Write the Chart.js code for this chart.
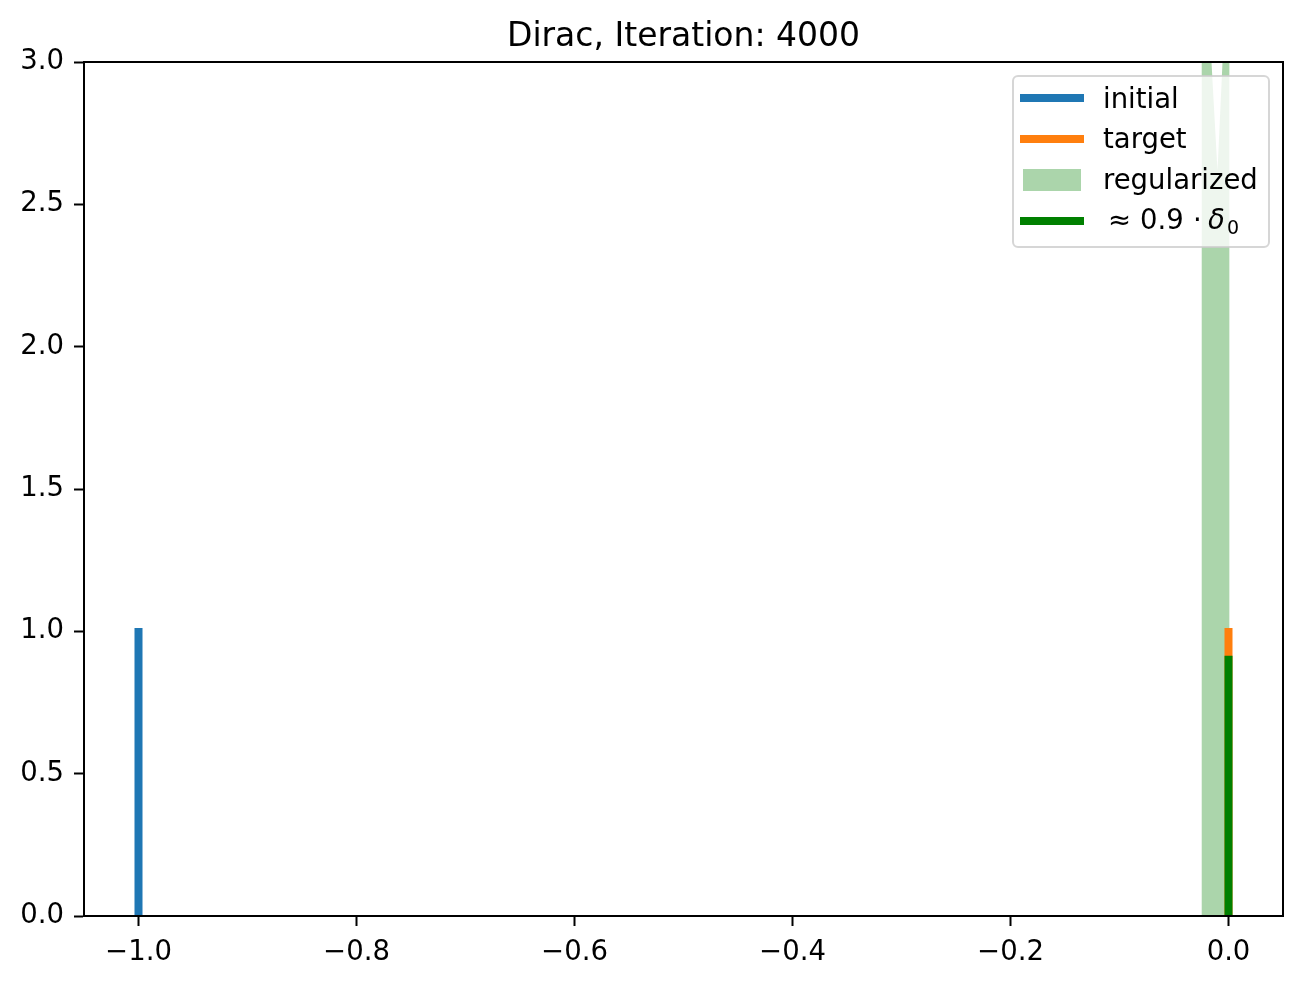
<!DOCTYPE html>
<html>
<head>
<meta charset="utf-8">
<title>Dirac, Iteration: 4000</title>
<script src="https://cdn.jsdelivr.net/npm/chart.js@4.4.1/dist/chart.umd.min.js"></script>
<style>
  html, body { margin: 0; padding: 0; background: #fff; }
  #wrap { width: 1304px; height: 984px; }
</style>
</head>
<body>
<div id="wrap"><canvas id="chart" width="1304" height="984"></canvas></div>
<script>
// ===== DATA =====
const titleText = 'Dirac, Iteration: 4000';
const xTicks = [-1.0, -0.8, -0.6, -0.4, -0.2, 0.0];
const yTicks = [0.0, 0.5, 1.0, 1.5, 2.0, 2.5, 3.0];

// initial dirac at -1
const initialX = [-1.0, -1.0];
const initialY = [0.0, 1.012];
// target dirac at 0
const targetX = [0.0, 0.0];
const targetY = [0.0, 1.012];
// approximation ~ 0.9 * delta_0
const approxX = [0.0, 0.0];
const approxY = [0.0, 0.914];
// regularized density (goes off the top of the axes, dips in the middle)
const regX = [-0.0248, -0.0248, -0.0175, -0.0156, -0.0101, -0.0055, -0.0035, 0.0010, 0.0010];
const regY = [0.0, 3.6, 3.15, 3.0, 2.62, 3.0, 3.15, 3.6, 0.0];

const legendLabels = ['initial', 'target', 'regularized'];

// ===== STYLE =====
const FONT = 'DejaVu Sans';
const BLUE = '#1f77b4';
const ORANGE = '#ff7f0e';
const GREEN = '#008000';
const REG_FILL = 'rgba(0, 128, 0, 0.33)';

const toPoints = (xs, ys) => xs.map((x, i) => ({ x: x, y: ys[i] }));
const fmt = v => (v < 0 ? '\u2212' : '') + Math.abs(v).toFixed(1);

// ===== FRAME, TITLE AND LEGEND =====
const frameAndLegend = {
    id: 'frameAndLegend',
    afterDatasetsDraw(chart) {
        const ctx = chart.ctx;
        const a = chart.chartArea;
        ctx.save();

        // all four spines
        ctx.strokeStyle = '#000';
        ctx.lineWidth = 2;
        ctx.strokeRect(a.left, a.top, a.right - a.left, a.bottom - a.top);

        // title
        ctx.fillStyle = '#000';
        ctx.font = '33px "' + FONT + '"';
        ctx.textAlign = 'center';
        ctx.textBaseline = 'alphabetic';
        ctx.fillText(titleText, (a.left + a.right) / 2, 46);

        // legend box
        const bw = 256, bh = 171;
        const bx = a.right - 14 - bw;
        const by = a.top + 14;
        ctx.beginPath();
        ctx.roundRect(bx, by, bw, bh, 5);
        ctx.fillStyle = 'rgba(255, 255, 255, 0.8)';
        ctx.fill();
        ctx.strokeStyle = 'rgba(204, 204, 204, 0.8)';
        ctx.lineWidth = 2;
        ctx.stroke();

        const hx0 = bx + 7, hx1 = bx + 71;
        const tx = bx + 90;
        const handleY = [22, 63, 104, 145];
        const baseY = [32, 72, 113, 153];

        ctx.lineCap = 'butt';
        ctx.lineWidth = 8;
        [[BLUE, 0], [ORANGE, 1], [GREEN, 3]].forEach(([c, i]) => {
            ctx.strokeStyle = c;
            ctx.beginPath();
            ctx.moveTo(hx0, by + handleY[i]);
            ctx.lineTo(hx1, by + handleY[i]);
            ctx.stroke();
        });
        ctx.fillStyle = REG_FILL;
        ctx.fillRect(bx + 10, by + handleY[2] - 11, 58, 22);

        ctx.fillStyle = '#000';
        ctx.textAlign = 'left';
        ctx.font = '27.5px "' + FONT + '"';
        legendLabels.forEach((t, i) => ctx.fillText(t, tx, by + baseY[i]));

        // "≈ 0.9·δ0"
        const b = by + baseY[3];
        ctx.fillText('\u2248', tx + 5, b);
        ctx.fillText('0.9', tx + 37, b);
        ctx.fillText('\u00b7', tx + 90, b);
        ctx.font = 'italic 27.5px "' + FONT + '"';
        ctx.fillText('\u03b4', tx + 105, b);
        ctx.font = '19px "' + FONT + '"';
        ctx.fillText('0', tx + 124, b + 5);

        ctx.restore();
    }
};

// ===== CHART =====
const ctx = document.getElementById('chart');

new Chart(ctx, {
    type: 'line',
    data: {
        datasets: [
            {
                label: 'approx',
                data: toPoints(approxX, approxY),
                borderColor: GREEN,
                borderWidth: 8,
                borderCapStyle: 'butt',
                pointRadius: 0,
                fill: false,
                order: 0
            },
            {
                label: 'target',
                data: toPoints(targetX, targetY),
                borderColor: ORANGE,
                borderWidth: 8,
                borderCapStyle: 'butt',
                pointRadius: 0,
                fill: false,
                order: 1
            },
            {
                label: 'regularized',
                data: toPoints(regX, regY),
                borderWidth: 0,
                borderColor: 'rgba(0,0,0,0)',
                backgroundColor: REG_FILL,
                pointRadius: 0,
                fill: 'origin',
                tension: 0,
                order: 2
            },
            {
                label: 'initial',
                data: toPoints(initialX, initialY),
                borderColor: BLUE,
                borderWidth: 8,
                borderCapStyle: 'butt',
                pointRadius: 0,
                fill: false,
                order: 3
            }
        ]
    },
    options: {
        responsive: false,
        animation: false,
        layout: { padding: { left: 0, right: 21, top: 62, bottom: 0 } },
        plugins: {
            legend: { display: false },
            title: { display: false },
            tooltip: { enabled: false }
        },
        scales: {
            x: {
                type: 'linear',
                min: -1.05,
                max: 0.05,
                afterBuildTicks: s => { s.ticks = xTicks.map(v => ({ value: v })); },
                afterFit: s => { s.height = 68; },
                grid: {
                    display: true,
                    drawOnChartArea: false,
                    drawTicks: true,
                    tickLength: 10,
                    tickWidth: 2,
                    tickColor: '#000'
                },
                border: { display: true, color: '#000', width: 2 },
                ticks: {
                    color: '#000',
                    font: { family: FONT, size: 27.5 },
                    padding: 10,
                    maxRotation: 0,
                    autoSkip: false,
                    callback: v => fmt(v)
                }
            },
            y: {
                type: 'linear',
                min: 0,
                max: 3,
                afterBuildTicks: s => { s.ticks = yTicks.map(v => ({ value: v })); },
                afterFit: s => { s.width = 84; },
                grid: {
                    display: true,
                    drawOnChartArea: false,
                    drawTicks: true,
                    tickLength: 10,
                    tickWidth: 2,
                    tickColor: '#000'
                },
                border: { display: true, color: '#000', width: 2 },
                ticks: {
                    color: '#000',
                    font: { family: FONT, size: 27.5 },
                    padding: 10,
                    autoSkip: false,
                    callback: v => fmt(v)
                }
            }
        }
    },
    plugins: [frameAndLegend]
});
</script>
</body>
</html>
